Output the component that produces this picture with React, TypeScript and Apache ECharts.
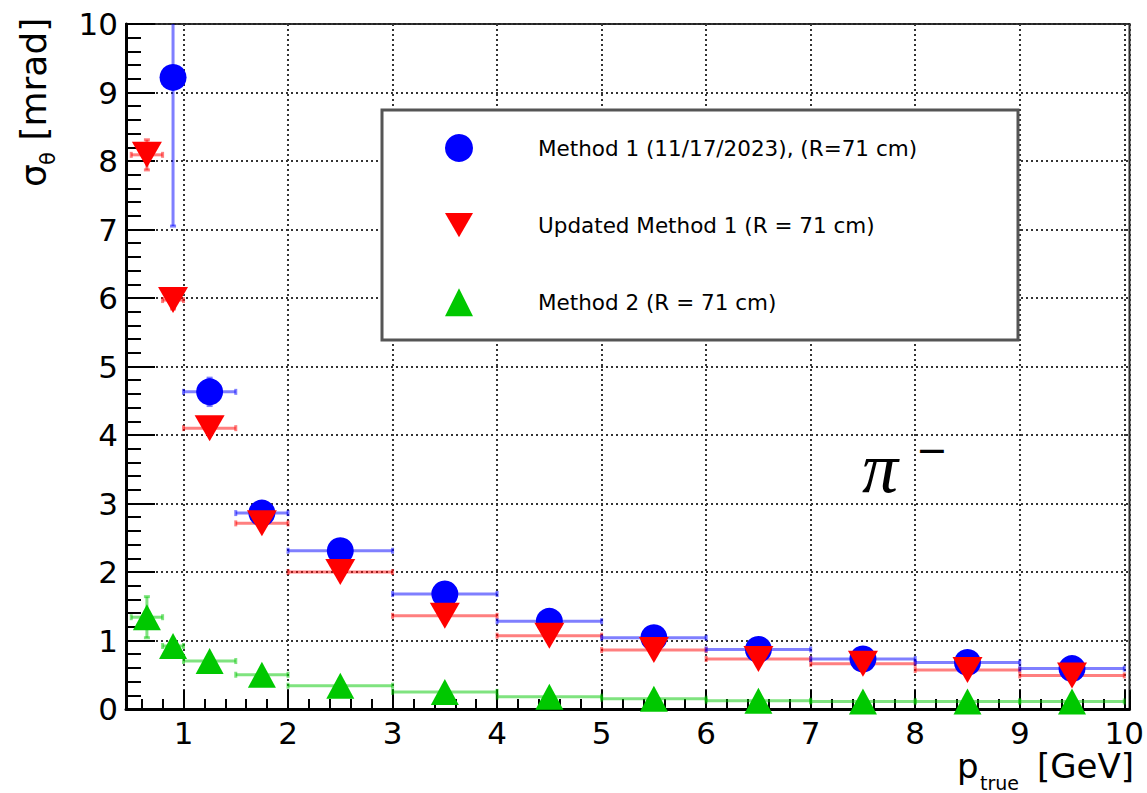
import React, { useEffect, useRef } from 'react';
import * as echarts from 'echarts';

// Bins in p_true [GeV]
const binLow = [0.5, 0.8, 1.0, 1.5, 2, 3, 4, 5, 6, 7, 8, 9];
const binHigh = [0.8, 1.0, 1.5, 2, 3, 4, 5, 6, 7, 8, 9, 10];
const binCenter = [0.65, 0.9, 1.25, 1.75, 2.5, 3.5, 4.5, 5.5, 6.5, 7.5, 8.5, 9.5];

// sigma_theta [mrad]
const method1 = [null, 9.22, 4.63, 2.86, 2.31, 1.68, 1.28, 1.04, 0.87, 0.73, 0.68, 0.59];
const method1Err = [null, 2.17, 0.2, 0.06, 0.05, 0.04, 0.03, 0.03, 0.02, 0.02, 0.02, 0.02];
const updated1 = [8.09, 5.97, 4.1, 2.71, 2.0, 1.36, 1.07, 0.86, 0.73, 0.66, 0.57, 0.49];
const updated1Err = [0.22, 0.13, 0.05, 0.04, 0.03, 0.02, 0.02, 0.02, 0.02, 0.02, 0.02, 0.02];
const method2 = [1.34, 0.92, 0.7, 0.5, 0.34, 0.25, 0.18, 0.15, 0.12, 0.11, 0.11, 0.11];
const method2Err = [0.3, 0.08, 0.03, 0.02, 0.02, 0.01, 0.01, 0.01, 0.01, 0.01, 0.01, 0.01];

const names = [
  'Method 1 (11/17/2023), (R=71 cm)',
  'Updated Method 1 (R = 71 cm)',
  'Method 2 (R = 71 cm)',
];

const FONT = 'DejaVu Sans';
const downTri = 'path://M0,0 L20,0 L10,17.32 Z';

function errSeries(values: (number | null)[], errs: (number | null)[], color: string) {
  const data: number[][] = [];
  values.forEach((v, i) => {
    if (v == null) return;
    const e = errs[i] as number;
    data.push([binCenter[i], v, binLow[i], binHigh[i], v - e, v + e]);
  });
  return {
    type: 'custom',
    clip: true,
    z: 3,
    silent: true,
    encode: { x: [0, 2, 3], y: [1, 4, 5] },
    data,
    renderItem: (_params: any, api: any) => {
      const x = api.value(0), y = api.value(1);
      const pL = api.coord([api.value(2), y]);
      const pH = api.coord([api.value(3), y]);
      const pB = api.coord([x, api.value(4)]);
      const pT = api.coord([x, api.value(5)]);
      const cap = 3;
      const style = { stroke: color, lineWidth: 3, fill: null };
      const ln = (x1: number, y1: number, x2: number, y2: number) => ({
        type: 'line', shape: { x1, y1, x2, y2 }, style,
      });
      return {
        type: 'group',
        children: [
          ln(pL[0], pL[1], pH[0], pH[1]),
          ln(pL[0], pL[1] - cap, pL[0], pL[1] + cap),
          ln(pH[0], pH[1] - cap, pH[0], pH[1] + cap),
          ln(pB[0], pB[1], pT[0], pT[1]),
          ln(pB[0] - cap, pB[1], pB[0] + cap, pB[1]),
          ln(pT[0] - cap, pT[1], pT[0] + cap, pT[1]),
        ],
      };
    },
  };
}

function pts(values: (number | null)[]) {
  const out: number[][] = [];
  values.forEach((v, i) => { if (v != null) out.push([binCenter[i], v]); });
  return out;
}

export default function App() {
  const ref = useRef<HTMLDivElement>(null);
  useEffect(() => {
    if (!ref.current) return;
    const chart = echarts.init(ref.current, undefined, { renderer: 'svg' });
    const axisCommon = {
      axisLine: { show: true, onZero: false, lineStyle: { color: '#000', width: 3 } },
      splitLine: { show: true, lineStyle: { color: '#333', width: 2, type: [2, 3] } },
      axisLabel: {
        color: '#000', fontSize: 31, fontFamily: FONT, margin: 8,
        formatter: (v: number) => (Math.abs(v - Math.round(v)) < 1e-9 ? String(Math.round(v)) : ''),
      },
    };
    chart.setOption({
      animation: false,
      backgroundColor: '#fff',
      grid: {
        left: 126, top: 24, width: 1007, height: 685,
        show: true, borderColor: '#222', borderWidth: 2, backgroundColor: 'transparent',
      },
      xAxis: {
        type: 'value', min: 0.45, max: 10.05, splitNumber: 10,
        ...axisCommon,
        axisTick: { show: true, inside: true, length: 19, lineStyle: { color: '#000', width: 2 } },
        minorTick: { show: true, splitNumber: 5, length: 10, lineStyle: { color: '#000', width: 2 } },
      },
      yAxis: {
        type: 'value', min: 0, max: 10, interval: 1,
        ...axisCommon,
        axisTick: { show: true, inside: true, length: 29, lineStyle: { color: '#000', width: 2 } },
        minorTick: { show: true, splitNumber: 5, length: 15, lineStyle: { color: '#000', width: 2 } },
      },
      legend: {
        orient: 'vertical', left: 445, top: 134, padding: 0,
        itemWidth: 28, itemHeight: 28, itemGap: 51, z: 10, selectedMode: false,
        textStyle: { fontSize: 21.5, fontFamily: FONT, color: '#000', padding: [0, 0, 0, 60] },
        data: [
          { name: names[0], icon: 'circle' },
          { name: names[1], icon: downTri },
          { name: names[2], icon: 'triangle' },
        ],
      },
      graphic: [
        {
          type: 'rect', z: 5,
          shape: { x: 382, y: 110, width: 636, height: 230 },
          style: { fill: '#fff', stroke: '#555', lineWidth: 3 },
        },
        {
          type: 'group', x: 51, y: 187, rotation: Math.PI / 2, z: 5,
          children: [
            { type: 'text', x: 0, y: 0, style: { text: 'σ', font: `36px "${FONT}"`, fill: '#000', align: 'left', verticalAlign: 'bottom' } },
            { type: 'text', x: 22, y: 7, style: { text: 'θ', font: `21px "${FONT}"`, fill: '#000', align: 'left', verticalAlign: 'bottom' } },
            { type: 'text', x: 35, y: 0, style: { text: ' [mrad]', font: `36px "${FONT}"`, fill: '#000', align: 'left', verticalAlign: 'bottom' } },
          ],
        },
        { type: 'text', x: 957, y: 783, z: 5, style: { text: 'p', font: `34px "${FONT}"`, fill: '#000', align: 'left', verticalAlign: 'bottom' } },
        { type: 'text', x: 980, y: 792, z: 5, style: { text: 'true', font: `19px "${FONT}"`, fill: '#000', align: 'left', verticalAlign: 'bottom' } },
        { type: 'text', x: 1134, y: 783, z: 5, style: { text: '[GeV]', font: `34px "${FONT}"`, fill: '#000', align: 'right', verticalAlign: 'bottom' } },
        { type: 'text', x: 862, y: 504, z: 5, style: { text: 'π', font: 'italic 72px "Liberation Serif"', fill: '#000', align: 'left', verticalAlign: 'bottom' } },
        { type: 'text', x: 916, y: 450, z: 5, style: { text: '−', font: `38px "${FONT}"`, fill: '#000', align: 'left', verticalAlign: 'middle' } },
      ],
      series: [
        errSeries(method2, method2Err, 'rgba(0,200,0,0.5)'),
        errSeries(updated1, updated1Err, 'rgba(255,0,0,0.5)'),
        errSeries(method1, method1Err, 'rgba(0,0,255,0.5)'),
        {
          type: 'scatter', name: names[2], data: pts(method2), symbol: 'triangle',
          symbolSize: [28, 26], itemStyle: { color: '#00c800', opacity: 1 }, z: 4,
        },
        {
          type: 'scatter', name: names[0], data: pts(method1), symbol: 'circle',
          symbolSize: 27, itemStyle: { color: '#0000ff', opacity: 1 }, z: 4,
        },
        {
          type: 'scatter', name: names[1], data: pts(updated1), symbol: downTri,
          symbolSize: [30, 26], symbolKeepAspect: false, itemStyle: { color: '#ff0000', opacity: 1 }, z: 4,
        },
      ],
    });
    return () => chart.dispose();
  }, []);
  return <div ref={ref} style={{ position: 'absolute', left: 0, top: 0, width: 1147, height: 793 }} />;
}
